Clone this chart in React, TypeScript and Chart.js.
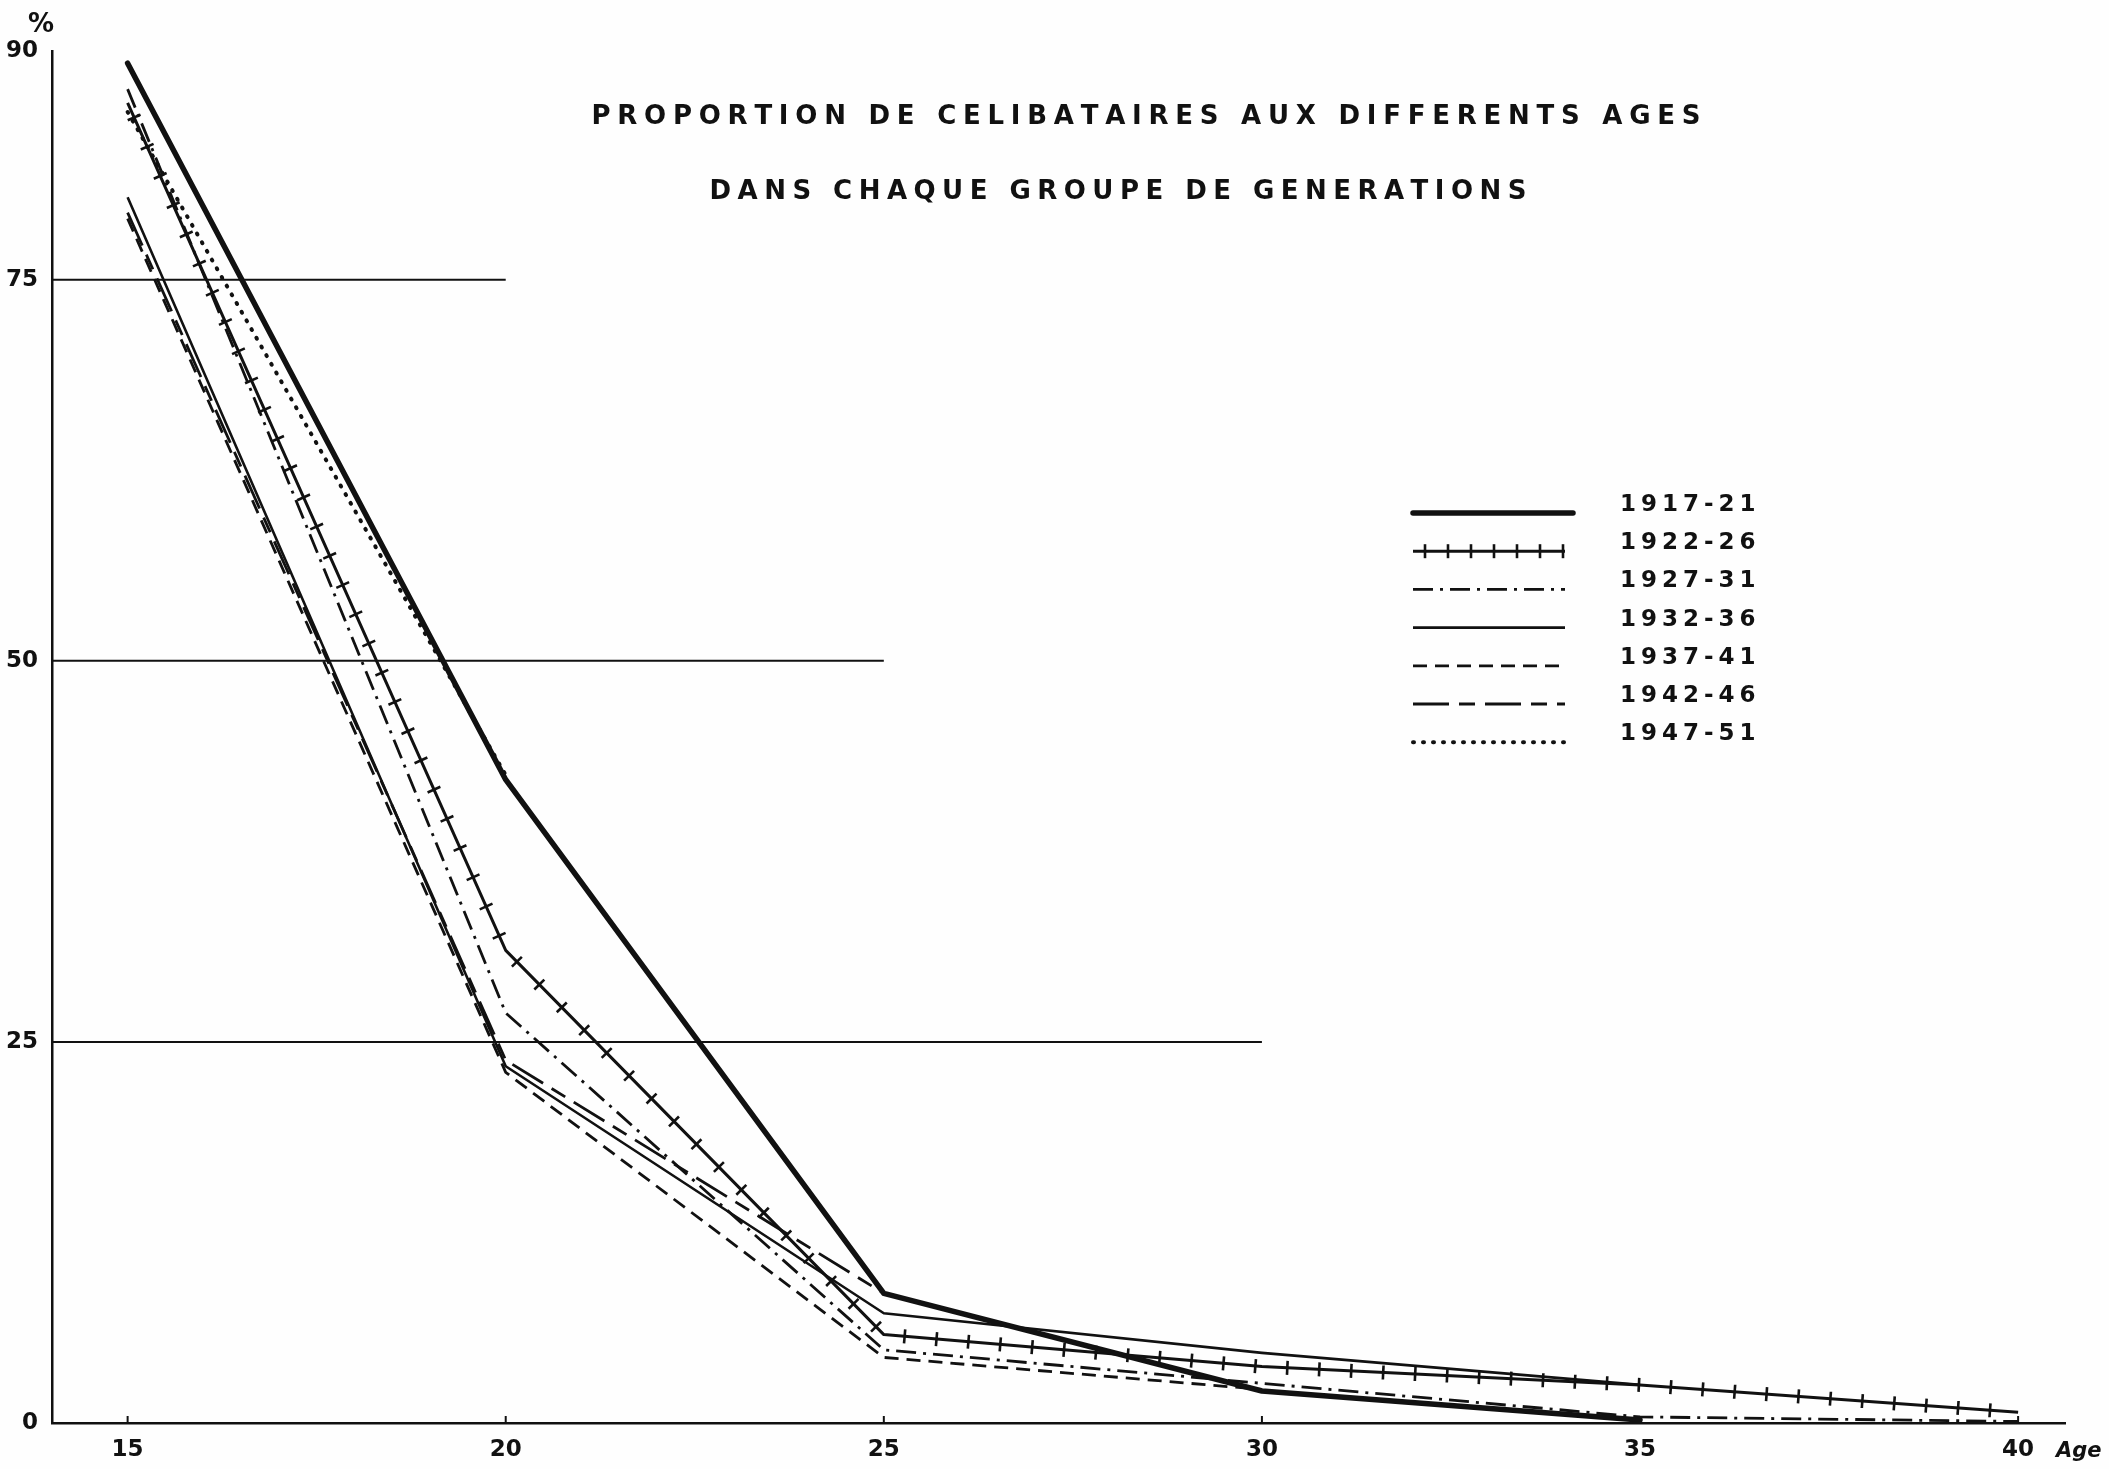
import React, { useEffect, useRef } from "react";
import { Chart, registerables } from "chart.js";

Chart.register(...registerables);

// ---- data ----
const ages = [15, 20, 25, 30, 35, 40];
const s1917_21 = [89.2, 42.2, 8.5, 2.1, 0.2];
const s1922_26 = [86.6, 31.0, 5.8, 3.7, 2.5, 0.7];
const s1927_31 = [87.5, 26.9, 4.8, 2.6, 0.4, 0.1];
const s1932_36 = [80.4, 23.4, 7.2, 4.6, 2.5];
const s1937_41 = [79.0, 23.0, 4.3, 2.2];
const s1942_46 = [79.4, 23.8, 8.5];
const s1947_51 = [86.0, 42.5];
const seriesLabels = ["1917-21", "1922-26", "1927-31", "1932-36", "1937-41", "1942-46", "1947-51"];
const yTickValues = [0, 25, 50, 75, 90];
const xTickValues = [15, 20, 25, 30, 35, 40];
const guideLevels = [75, 50, 25];
const guideEndAges = [20, 25, 30];
const titleLines = [
  "PROPORTION DE CELIBATAIRES AUX DIFFERENTS AGES",
  "DANS CHAQUE GROUPE DE GENERATIONS",
];
const yUnit = "%";
const xUnit = "Age";

const X_MIN = 14;
const X_MAX = 40.62;
const Y_MIN = 0;
const Y_MAX = 90;

type Style = { width: number; dash: number[]; cap?: CanvasLineCap; ticks?: boolean };

function drawSpaced(ctx: CanvasRenderingContext2D, text: string, x: number, y: number, spacing: number, align: "left" | "center") {
  const chars = [...text];
  const widths = chars.map((c) => ctx.measureText(c).width);
  const total = widths.reduce((a, b) => a + b, 0) + spacing * (chars.length - 1);
  let cx = align === "center" ? x - total / 2 : x;
  ctx.textAlign = "left";
  chars.forEach((c, i) => {
    ctx.fillText(c, cx, y);
    cx += widths[i] + spacing;
  });
}

function drawFitted(ctx: CanvasRenderingContext2D, text: string, cx: number, y: number, targetWidth: number) {
  const chars = [...text];
  const sum = chars.reduce((a, c) => a + ctx.measureText(c).width, 0);
  const spacing = (targetWidth - sum) / (chars.length - 1);
  drawSpaced(ctx, text, cx, y, spacing, "center");
}

function ticksAlong(ctx: CanvasRenderingContext2D, pts: { x: number; y: number }[], spacing: number, len: number, start: number) {
  let carry = start;
  for (let i = 0; i < pts.length - 1; i++) {
    const p0 = pts[i];
    const p1 = pts[i + 1];
    const dx = p1.x - p0.x;
    const dy = p1.y - p0.y;
    const L = Math.hypot(dx, dy);
    if (L === 0) continue;
    const ux = dx / L;
    const uy = dy / L;
    const nx = -uy;
    const ny = ux;
    let d = carry;
    while (d <= L) {
      const cx = p0.x + ux * d;
      const cy = p0.y + uy * d;
      ctx.beginPath();
      ctx.moveTo(cx - (nx * len) / 2, cy - (ny * len) / 2);
      ctx.lineTo(cx + (nx * len) / 2, cy + (ny * len) / 2);
      ctx.stroke();
      d += spacing;
    }
    carry = d - L;
  }
}

export default function App() {
  const ref = useRef<HTMLCanvasElement>(null);

  useEffect(() => {
    document.body.style.margin = "0";
    document.body.style.overflow = "hidden";
    const canvas = ref.current;
    if (!canvas) return;
    const ink = "#111111";

    const styles: Style[] = [
      { width: 5.5, dash: [], cap: "round" },
      { width: 3, dash: [], ticks: true },
      { width: 2.8, dash: [20, 7, 3, 7] },
      { width: 2.6, dash: [] },
      { width: 2.8, dash: [14, 8] },
      { width: 2.8, dash: [36, 10, 16, 10] },
      { width: 4, dash: [1, 9], cap: "round" },
    ];
    const series = [s1917_21, s1922_26, s1927_31, s1932_36, s1937_41, s1942_46, s1947_51];

    const seriesSets = series.map((vals, i) => ({
      label: seriesLabels[i],
      data: vals.map((v, j) => ({ x: ages[j], y: v })),
      borderColor: ink,
      backgroundColor: ink,
      borderWidth: styles[i].width,
      borderDash: styles[i].dash,
      borderCapStyle: styles[i].cap || "butt",
      borderJoinStyle: "round",
      pointRadius: 0,
      tension: 0,
      fill: false,
    }));
    const guideSets = guideLevels.map((lvl, i) => ({
      label: "",
      data: [
        { x: X_MIN, y: lvl },
        { x: guideEndAges[i], y: lvl },
      ],
      borderColor: ink,
      borderWidth: 2,
      pointRadius: 0,
      fill: false,
    }));

    const decor = {
      id: "decor",
      beforeDraw(chart: any) {
        const ctx = chart.ctx;
        ctx.save();
        ctx.fillStyle = "#fefefe";
        ctx.fillRect(0, 0, chart.width, chart.height);
        ctx.restore();
      },
      afterDatasetsDraw(chart: any) {
        const ctx: CanvasRenderingContext2D = chart.ctx;
        const meta = chart.getDatasetMeta(1);
        const pts = meta.data.map((p: any) => ({ x: p.x, y: p.y }));
        ctx.save();
        ctx.strokeStyle = ink;
        ctx.lineWidth = 2.6;
        ctx.setLineDash([]);
        ticksAlong(ctx, pts, 32, 14, 16);
        ctx.restore();
      },
      afterDraw(chart: any) {
        const ctx: CanvasRenderingContext2D = chart.ctx;
        const xs = chart.scales.x;
        const area = chart.chartArea;
        ctx.save();
        ctx.fillStyle = ink;
        ctx.strokeStyle = ink;

        // x tick marks (small, upward)
        ctx.lineWidth = 2;
        xTickValues.forEach((v) => {
          const px = xs.getPixelForValue(v);
          ctx.beginPath();
          ctx.moveTo(px, area.bottom);
          ctx.lineTo(px, area.bottom - 7);
          ctx.stroke();
        });

        // title
        ctx.font = 'bold 26px "DejaVu Sans"';
        ctx.textBaseline = "middle";
        drawFitted(ctx, titleLines[0], 1146, 117, 1109);
        drawFitted(ctx, titleLines[1], 1118, 192, 817);

        // legend
        const lx0 = 1413;
        const lx1 = 1570;
        const tx = 1620;
        styles.forEach((st, i) => {
          const y = 513 + i * 38.2;
          ctx.lineWidth = st.width;
          ctx.lineCap = st.cap || "butt";
          ctx.setLineDash(st.dash);
          ctx.beginPath();
          ctx.moveTo(lx0, y);
          ctx.lineTo(i === 0 ? lx1 + 3 : lx1 - 5, y);
          ctx.stroke();
          ctx.setLineDash([]);
          ctx.lineCap = "butt";
          if (st.ticks) {
            ctx.lineWidth = 2.6;
            ticksAlong(ctx, [{ x: lx0, y }, { x: lx1 - 5, y }], 23, 14, 12);
          }
          ctx.font = 'bold 23px "DejaVu Sans"';
          ctx.textBaseline = "middle";
          drawSpaced(ctx, seriesLabels[i], tx, y - 8, 5, "left");
        });

        // units
        ctx.font = 'bold 26px "DejaVu Sans"';
        ctx.textBaseline = "middle";
        ctx.textAlign = "center";
        ctx.fillText(yUnit, 41, 25);
        ctx.font = 'italic bold 21px "DejaVu Sans"';
        ctx.textAlign = "left";
        ctx.fillText(xUnit, 2056, 1452);
        ctx.restore();
      },
    };

    const chart = new Chart(canvas, {
      type: "line",
      data: { datasets: [...seriesSets, ...guideSets] as any },
      options: {
        animation: false,
        responsive: false,
        maintainAspectRatio: false,
        layout: { padding: { top: 51, right: 44, left: 0, bottom: 0 } },
        plugins: {
          legend: { display: false },
          tooltip: { enabled: false },
          title: { display: false },
        },
        scales: {
          x: {
            type: "linear",
            min: X_MIN,
            max: X_MAX,
            afterFit: (s: any) => {
              s.height = 46;
            },
            afterBuildTicks: (s: any) => {
              s.ticks = xTickValues.map((v) => ({ value: v }));
            },
            grid: { display: false, drawTicks: false },
            border: { display: true, color: ink, width: 2.5 },
            ticks: {
              color: ink,
              padding: 13,
              maxRotation: 0,
              autoSkip: false,
              font: { family: "DejaVu Sans", size: 23, weight: "bold" },
              callback: (v: any) => String(v),
            },
          },
          y: {
            type: "linear",
            min: Y_MIN,
            max: Y_MAX,
            afterFit: (s: any) => {
              s.width = 52;
            },
            afterBuildTicks: (s: any) => {
              s.ticks = yTickValues.map((v) => ({ value: v }));
            },
            grid: { display: false, drawTicks: false },
            border: { display: true, color: ink, width: 2.5 },
            ticks: {
              color: ink,
              padding: 14,
              autoSkip: false,
              font: { family: "DejaVu Sans", size: 23, weight: "bold" },
              callback: (v: any) => String(v),
            },
          },
        },
      },
      plugins: [decor],
    });

    return () => {
      chart.destroy();
    };
  }, []);

  return (
    <div style={{ width: 2109, height: 1469, background: "#fefefe" }}>
      <canvas ref={ref} width={2109} height={1469} style={{ display: "block", width: 2109, height: 1469 }} />
    </div>
  );
}
